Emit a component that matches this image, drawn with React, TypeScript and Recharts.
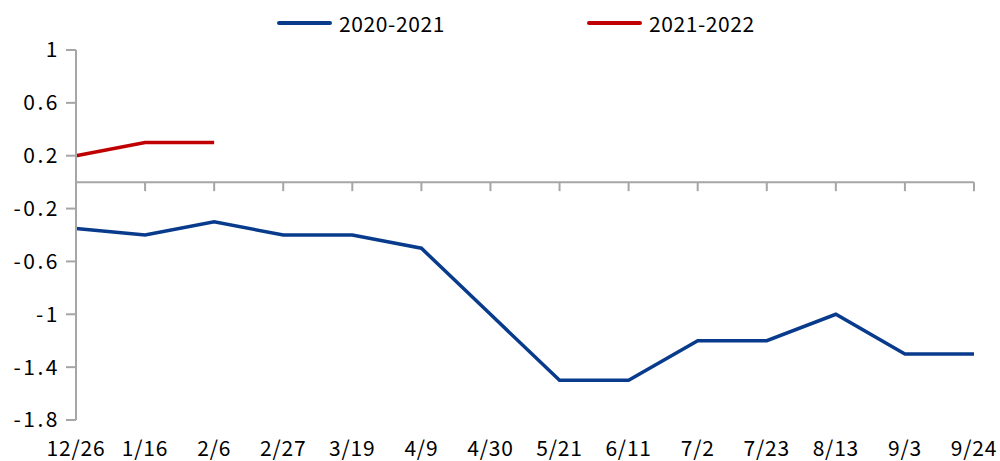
import React from 'react';
import { LineChart, Line, XAxis, YAxis, ReferenceLine, ReferenceDot } from 'recharts';

const categories = ['12/26', '1/16', '2/6', '2/27', '3/19', '4/9', '4/30', '5/21', '6/11', '7/2', '7/23', '8/13', '9/3', '9/24'];
const series2020 = [-0.35, -0.4, -0.3, -0.4, -0.4, -0.5, -1.0, -1.5, -1.5, -1.2, -1.2, -1.0, -1.3, -1.3];
const series2021 = [0.2, 0.3, 0.3, null, null, null, null, null, null, null, null, null, null, null];
const yTicks = [1, 0.6, 0.2, -0.2, -0.6, -1, -1.4, -1.8];
const seriesNames = ['2020-2021', '2021-2022'];

const BLUE = '#083b8c';
const RED = '#c00000';
const GRAY = '#a6a6a6';
const FONT = '"Noto Sans CJK SC", "Noto Sans", sans-serif';

const data = categories.map((c, i) => ({ cat: c, a: series2020[i], b: series2021[i] }));

const LegendItem = ({ color, label, style }: any) => (
  <div style={{ display: 'flex', alignItems: 'center', ...style }}>
    <span style={{ display: 'inline-block', width: 55, height: 4, background: color, borderRadius: 2, marginRight: 7 }} />
    <span style={{ letterSpacing: 0.6 }}>{label}</span>
  </div>
);

const TickMark = (props: any) => {
  const { cx, cy } = props;
  return <line x1={cx} y1={cy} x2={cx} y2={cy + 9} stroke={GRAY} strokeWidth={2} />;
};

export default function App() {
  return (
    <div style={{ position: 'absolute', left: 0, top: 0, width: 1000, height: 461, background: '#fff' }}>
      <div
        style={{
          position: 'absolute', top: 8, left: 277, height: 30,
          display: 'flex', alignItems: 'center', fontFamily: FONT, fontSize: 21, color: '#000', whiteSpace: 'nowrap',
        }}
      >
        <LegendItem color={BLUE} label={seriesNames[0]} />
        <LegendItem color={RED} label={seriesNames[1]} style={{ marginLeft: 142 }} />
      </div>
      <LineChart width={1000} height={461} data={data} margin={{ top: 50, right: 26, left: 0, bottom: 0 }}>
        <XAxis
          dataKey="cat"
          scale="point"
          padding={{ left: 0, right: 0 }}
          height={41}
          axisLine={false}
          tickLine={false}
          tickMargin={15}
          interval={0}
          tick={{ fill: '#000', fontSize: 21, fontFamily: FONT, letterSpacing: 0.8 }}
        />
        <YAxis
          domain={[-1.8, 1]}
          ticks={yTicks}
          width={76}
          interval={0}
          axisLine={{ stroke: GRAY, strokeWidth: 2 }}
          tickLine={{ stroke: GRAY, strokeWidth: 2 }}
          tickSize={10}
          tickMargin={6}
          tick={{ fill: '#000', fontSize: 21, fontFamily: FONT, letterSpacing: 2.5 }}
        />
        <ReferenceLine y={0} stroke={GRAY} strokeWidth={2} />
        {categories.map((c) => (
          <ReferenceDot key={c} x={c} y={0} shape={<TickMark />} />
        ))}
        <Line dataKey="a" name={seriesNames[0]} stroke={BLUE} strokeWidth={3.5} dot={false} isAnimationActive={false} />
        <Line dataKey="b" name={seriesNames[1]} stroke={RED} strokeWidth={3.5} dot={false} isAnimationActive={false} />
      </LineChart>
    </div>
  );
}
